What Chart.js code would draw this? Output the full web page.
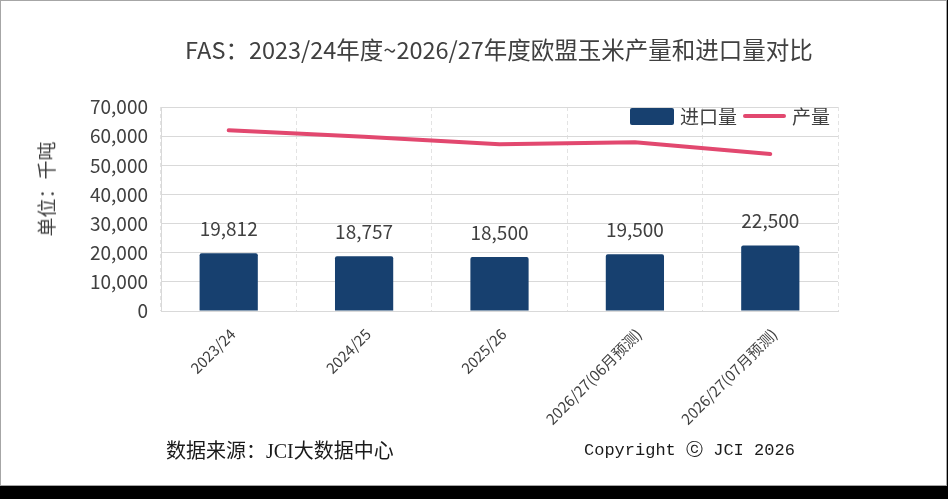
<!DOCTYPE html>
<html><head><meta charset="utf-8">
<script src="https://cdn.jsdelivr.net/npm/chart.js@4.4.1/dist/chart.umd.min.js"></script>
<style>
html,body{margin:0;padding:0;background:#000;width:948px;height:499px;overflow:hidden;}
#frame{position:absolute;left:0;top:0;width:947px;height:486px;box-sizing:border-box;border:1px solid #a6a6a6;background:#fff;}
#wrap{position:absolute;left:0;top:0;width:946px;height:485px;}
.t{position:absolute;font-family:'Noto Sans CJK SC',sans-serif;color:#404040;white-space:nowrap;}
#title{left:0;width:998px;top:34px;line-height:30px;font-size:23.5px;text-align:center;}
#ytitle{left:46px;top:189px;font-size:19px;line-height:24px;transform:translate(-50%,-50%) rotate(-90deg);}
#legend{right:118px;top:104px;display:flex;align-items:center;font-size:19px;line-height:24px;}
#legend .box{width:44px;height:17px;border-radius:2px;margin-right:6px;}
#legend .ln{width:43px;height:4px;border-radius:2px;margin:0 6px;}
#src{left:166px;top:438px;font-family:'Liberation Serif','Noto Sans CJK SC',serif;font-size:20px;line-height:26px;color:#1a1a1a;}
#copy{left:584px;top:438px;font-family:'Liberation Mono','DejaVu Sans Mono',monospace;font-size:17px;line-height:26px;color:#1a1a1a;}
</style></head>
<body>
<div id="frame"></div>
<div id="wrap"><canvas id="c" width="946" height="485"></canvas></div>
<div class="t" id="title">FAS：2023/24年度~2026/27年度欧盟玉米产量和进口量对比</div>
<div class="t" id="ytitle">单位：千吨</div>
<div class="t" id="legend"></div>
<div class="t" id="src">数据来源：JCI大数据中心</div>
<div class="t" id="copy">Copyright ⓒ JCI 2026</div>
<script>
const categories = ['2023/24', '2024/25', '2025/26', '2026/27(06月预测)', '2026/27(07月预测)'];
const importValues = [19812, 18757, 18500, 19500, 22500];
const productionValues = [62000, 59800, 57200, 57900, 53900];
const seriesNames = ['进口量', '产量'];
const yTicks = [0, 10000, 20000, 30000, 40000, 50000, 60000, 70000];

const barColor = '#17406f';
const lineColor = '#e2486f';
const textColor = '#404040';
const fontFam = "'Noto Sans CJK SC', sans-serif";

// HTML legend
const lg = document.getElementById('legend');
lg.innerHTML = '<span class="box" style="background:' + barColor + '"></span><span>' + seriesNames[0] +
  '</span><span class="ln" style="background:' + lineColor + '"></span><span>' + seriesNames[1] + '</span>';

const dataLabels = {
  id: 'dataLabels',
  afterDatasetsDraw(chart) {
    const ctx = chart.ctx;
    const meta = chart.getDatasetMeta(0);
    ctx.save();
    ctx.font = "19px " + fontFam;
    ctx.fillStyle = textColor;
    ctx.textAlign = 'center';
    ctx.textBaseline = 'alphabetic';
    meta.data.forEach((el, i) => {
      ctx.fillText(importValues[i].toLocaleString('en-US'), el.x, el.y - 17);
    });
    ctx.restore();
  }
};

new Chart(document.getElementById('c'), {
  type: 'bar',
  data: {
    labels: categories,
    datasets: [
      { type: 'bar', label: seriesNames[0], data: importValues, backgroundColor: barColor,
        barPercentage: 0.43, categoryPercentage: 1, borderRadius: 2, borderSkipped: 'bottom', order: 2 },
      { type: 'line', label: seriesNames[1], data: productionValues, borderColor: lineColor,
        backgroundColor: lineColor, borderWidth: 4, pointRadius: 0, tension: 0,
        borderCapStyle: 'round', borderJoinStyle: 'round', order: 1 }
    ]
  },
  options: {
    responsive: false,
    animation: false,
    devicePixelRatio: 1,
    layout: { padding: { left: 0, top: 107, right: 108, bottom: 0 } },
    plugins: { legend: { display: false }, title: { display: false }, tooltip: { enabled: false } },
    scales: {
      x: {
        grid: { color: '#e3e3e3', drawTicks: false, offset: true },
        border: { display: true, color: '#d9d9d9', dash: [4, 3] },
        ticks: { color: textColor, font: { family: fontFam, size: 15 }, minRotation: 45, maxRotation: 45,
                 autoSkip: false, padding: 14, labelOffset: 4 },
        afterFit(s) { s.height = 174; }
      },
      y: {
        min: 0, max: 70000,
        afterBuildTicks(s) { s.ticks = yTicks.map(v => ({ value: v })); },
        grid: { color: '#d9d9d9', drawTicks: false },
        border: { display: true, color: '#d9d9d9' },
        ticks: { color: textColor, font: { family: fontFam, size: 19 }, padding: 13,
                 callback: v => Number(v).toLocaleString('en-US') },
        afterFit(s) { s.width = 161; }
      }
    }
  },
  plugins: [dataLabels]
});
</script>
</body></html>
